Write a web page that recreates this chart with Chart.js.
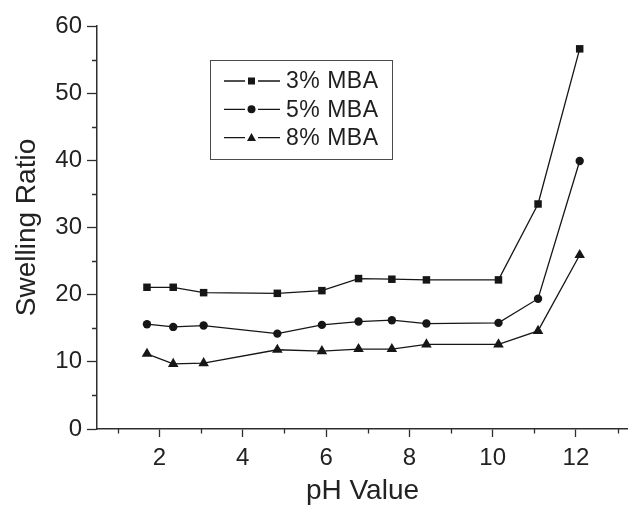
<!DOCTYPE html>
<html>
<head>
<meta charset="utf-8">
<title>Swelling Ratio vs pH</title>
<script src="https://cdn.jsdelivr.net/npm/chart.js@4.4.1/dist/chart.umd.min.js"></script>
<style>
  html, body { margin: 0; padding: 0; background: #fff; }
  #wrap { width: 628px; height: 505px; }
</style>
</head>
<body>
<div id="wrap"><canvas id="Chart" width="628" height="505"></canvas></div>
<script>
// measured points (pH, swelling ratio)
const phValues = [1.7, 2.33, 3.06, 4.83, 5.9, 6.78, 7.58, 8.41, 10.14, 11.09, 12.09];
const mba3 = [21.1, 21.1, 20.3, 20.2, 20.6, 22.4, 22.3, 22.2, 22.2, 33.5, 56.6];
const mba5 = [15.6, 15.2, 15.4, 14.2, 15.5, 16.0, 16.2, 15.7, 15.8, 19.4, 39.9];
const mba8 = [11.2, 9.7, 9.8, 11.8, 11.6, 11.9, 11.9, 12.6, 12.6, 14.6, 25.9];

const seriesLabels = ["3% MBA", "5% MBA", "8% MBA"];
const seriesMarkers = ["rect", "circle", "triangle"];

const xMajorTicks = [2, 4, 6, 8, 10, 12];
const xMinorTicks = [1, 3, 5, 7, 9, 11, 13];
const yMajorTicks = [0, 10, 20, 30, 40, 50, 60];
const yMinorTicks = [5, 15, 25, 35, 45, 55];

const INK = "#161616";
const AXIS = "#2e2e2e";
const FONT = "'Liberation Sans', Arial, Helvetica, sans-serif";

const toPoints = (ys) => ys.map((y, i) => ({ x: phValues[i], y: y }));

const makeDataset = (label, ys, marker, radius) => ({
  label: label,
  data: toPoints(ys),
  borderColor: INK,
  borderWidth: 1.3,
  backgroundColor: INK,
  pointStyle: marker,
  pointRadius: radius,
  pointBackgroundColor: INK,
  pointBorderColor: INK,
  pointBorderWidth: 0,
  tension: 0,
  fill: false,
});

// short minor tick marks on both axes
const minorTicks = {
  id: "minorTicks",
  afterDraw(chart) {
    const { ctx, scales } = chart;
    const xs = scales.x;
    const ys = scales.y;
    ctx.save();
    ctx.strokeStyle = AXIS;
    ctx.lineWidth = 1.3;
    ctx.beginPath();
    xMinorTicks.forEach((v) => {
      const px = Math.round(xs.getPixelForValue(v)) + 0.5;
      ctx.moveTo(px, xs.top);
      ctx.lineTo(px, xs.top + 4.5);
    });
    yMinorTicks.forEach((v) => {
      const py = Math.round(ys.getPixelForValue(v)) + 0.5;
      ctx.moveTo(ys.right, py);
      ctx.lineTo(ys.right - 5, py);
    });
    ctx.stroke();
    ctx.restore();
  },
};

function drawMarker(ctx, style, x, y) {
  ctx.beginPath();
  if (style === "rect") {
    ctx.rect(x - 3.5, y - 3.5, 7, 7);
  } else if (style === "circle") {
    ctx.arc(x, y, 4, 0, Math.PI * 2);
  } else {
    ctx.moveTo(x, y - 4.5);
    ctx.lineTo(x + 4.5, y + 3.5);
    ctx.lineTo(x - 4.5, y + 3.5);
    ctx.closePath();
  }
  ctx.fill();
}

// boxed legend sitting inside the plot area
const boxLegend = {
  id: "boxLegend",
  afterDraw(chart) {
    const ctx = chart.ctx;
    const box = { left: 210.5, top: 60.5, width: 182, height: 99 };
    ctx.save();
    ctx.strokeStyle = "#4a4a4a";
    ctx.lineWidth = 1;
    ctx.strokeRect(box.left, box.top, box.width, box.height);

    ctx.font = "23px " + FONT;
    ctx.letterSpacing = "0.5px";
    ctx.textBaseline = "middle";
    ctx.textAlign = "left";
    chart.data.datasets.forEach((ds, i) => {
      const cy = box.top + 20.5 + i * 28.3;
      ctx.strokeStyle = INK;
      ctx.lineWidth = 1.3;
      ctx.beginPath();
      ctx.moveTo(224, cy);
      ctx.lineTo(245, cy);
      ctx.moveTo(258, cy);
      ctx.lineTo(280, cy);
      ctx.stroke();
      ctx.fillStyle = INK;
      drawMarker(ctx, seriesMarkers[i], 251.5, cy);
      ctx.fillStyle = "#1e1e1e";
      ctx.fillText(ds.label, 286, cy + 1);
    });
    ctx.restore();
  },
};

const ctx = document.getElementById("Chart").getContext("2d");

new Chart(ctx, {
  type: "line",
  data: {
    datasets: [
      makeDataset(seriesLabels[0], mba3, seriesMarkers[0], 5.3),
      makeDataset(seriesLabels[1], mba5, seriesMarkers[1], 4.2),
      makeDataset(seriesLabels[2], mba8, seriesMarkers[2], 6.1),
    ],
  },
  options: {
    responsive: false,
    animation: false,
    devicePixelRatio: 1,
    layout: { autoPadding: false, padding: { top: 26, right: 0, bottom: 0, left: 0 } },
    plugins: {
      legend: { display: false },
      tooltip: { enabled: false },
    },
    scales: {
      x: {
        type: "linear",
        min: 0.5,
        max: 13.25,
        afterBuildTicks: (axis) => {
          axis.ticks = xMajorTicks.map((v) => ({ value: v }));
        },
        afterFit: (axis) => {
          axis.height = 76;
          axis.paddingLeft = 0;
          axis.paddingRight = 0;
        },
        grid: {
          drawOnChartArea: false,
          drawTicks: true,
          tickLength: 8,
          tickColor: AXIS,
          tickWidth: 1.3,
        },
        border: { display: true, color: AXIS, width: 1.5 },
        ticks: {
          padding: 7,
          color: "#222",
          font: { family: FONT, size: 24 },
          maxRotation: 0,
        },
        title: {
          display: true,
          text: "pH Value",
          color: "#222",
          font: { family: FONT, size: 28, lineHeight: 1 },
          padding: 0,
        },
      },
      y: {
        type: "linear",
        min: 0,
        max: 60,
        afterBuildTicks: (axis) => {
          axis.ticks = yMajorTicks.map((v) => ({ value: v }));
        },
        afterFit: (axis) => {
          axis.width = 97;
        },
        grid: {
          drawOnChartArea: false,
          drawTicks: true,
          tickLength: 10,
          tickColor: AXIS,
          tickWidth: 1.3,
        },
        border: { display: true, color: AXIS, width: 1.5 },
        ticks: {
          padding: 5,
          color: "#222",
          font: { family: FONT, size: 24 },
        },
        title: {
          display: true,
          text: "Swelling Ratio",
          color: "#222",
          font: { family: FONT, size: 28, lineHeight: 1 },
          padding: { top: 13, bottom: 0 },
        },
      },
    },
  },
  plugins: [minorTicks, boxLegend],
});
</script>
</body>
</html>
